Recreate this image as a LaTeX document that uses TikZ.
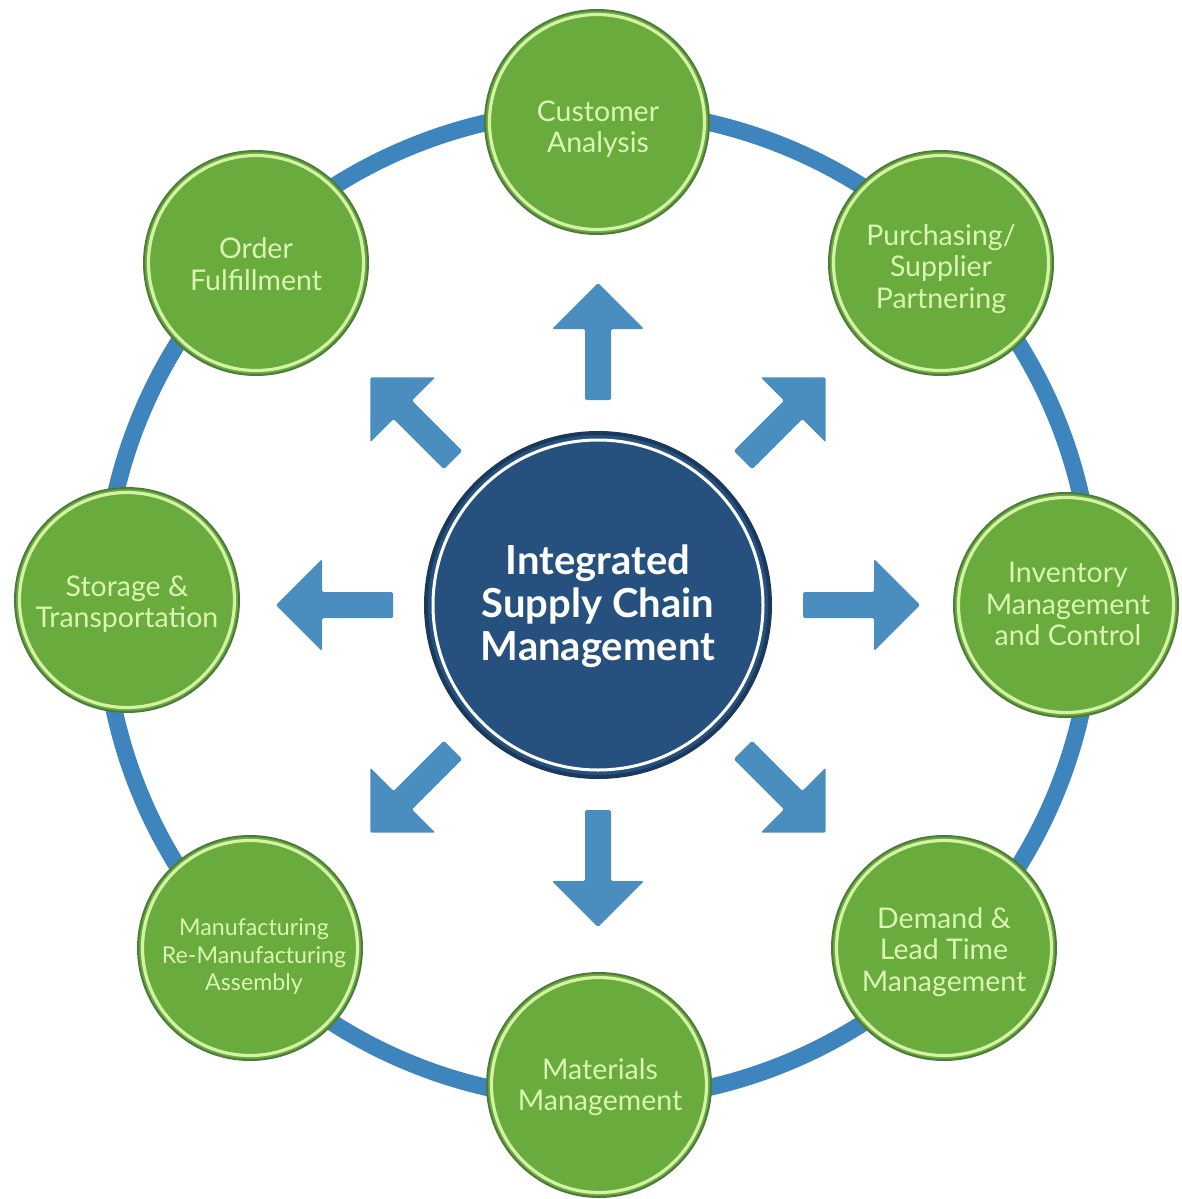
\documentclass[tikz,border=0pt]{standalone}
\usepackage{fontspec}
\setmainfont{Lato}
\definecolor{gfill}{HTML}{69AB3C}
\definecolor{gedge}{HTML}{4E7A3E}
\definecolor{glight}{HTML}{D4F3A4}
\definecolor{gtext}{HTML}{DAF6B2}
\definecolor{ringblue}{HTML}{3E85BD}
\definecolor{arrblue}{HTML}{4A8DBF}
\definecolor{navy}{HTML}{26517F}
\definecolor{navyedge}{HTML}{1B395A}
\tikzset{
  topic/.style={circle, minimum size=224pt, inner sep=0pt, fill=gfill, draw=gedge, line width=2pt,
    path picture={\draw[glight, line width=3.2pt] (path picture bounding box.center) circle (107.5pt);}},
  topictext/.style={align=center, text=gtext, inner sep=0pt, font=\fontsize{28.5}{31.5}\selectfont},
  hub/.style={circle, minimum size=344pt, inner sep=0pt, fill=navy, draw=navyedge, line width=4pt,
    path picture={\draw[white, line width=3pt] (path picture bounding box.center) circle (165pt);}},
  hubtext/.style={align=center, text=white, inner sep=0pt, font=\bfseries\fontsize{40}{43}\selectfont},
  spoke/.style={fill=arrblue, rounded corners=1.5pt}
}
\begin{document}
\begin{tikzpicture}[x=1pt,y=-1pt]
\useasboundingbox (0,0) rectangle (1182,1199);
\fill[white] (0,0) rectangle (1182,1199);
\coordinate (c) at (598,605);
\draw[ringblue, line width=17pt] (c) circle (495pt);
% arrows
\foreach \a in {0,45,...,315}{
  \begin{scope}[shift={(c)}, rotate=\a]
    \fill[spoke] (205,-13) -- (276,-13) -- (276,-46) -- (322,0) -- (276,46) -- (276,13) -- (205,13) -- cycle;
  \end{scope}
}
\node[hub] (hub) at (c) {};
\node[hubtext] (hubT) at (598,606) {Integrated\\Supply Chain\\Management};
\node[topic] (cust) at (597,122) {};
\node[topic] (purch) at (941,263) {};
\node[topic] (inv) at (1066,605) {};
\node[topic] (dem) at (944,948) {};
\node[topic] (mat) at (599,1085) {};
\node[topic] (manu) at (250,948) {};
\node[topic] (stor) at (127,600) {};
\node[topic] (ord) at (256,263) {};
\node[topictext] (custT) at (598,129) {Customer\\Analysis};
\node[topictext] (purchT) at (941,269) {Purchasing/\\Supplier\\Partnering};
\node[topictext] (invT) at (1068,604) {Inventory\\Management\\and Control};
\node[topictext] (demT) at (944,952) {Demand \&\\Lead Time\\Management};
\node[topictext] (matT) at (600,1087) {Materials\\Management};
\node[topictext, font=\fontsize{23.2}{27.5}\selectfont] (manuT) at (254,957) {Manufacturing\\Re-Manufacturing\\Assembly};
\node[topictext] (storT) at (127,604) {Storage \&\\Transportation};
\node[topictext] (ordT) at (256,264) {Order\\Fulfillment};
\end{tikzpicture}
\end{document}
